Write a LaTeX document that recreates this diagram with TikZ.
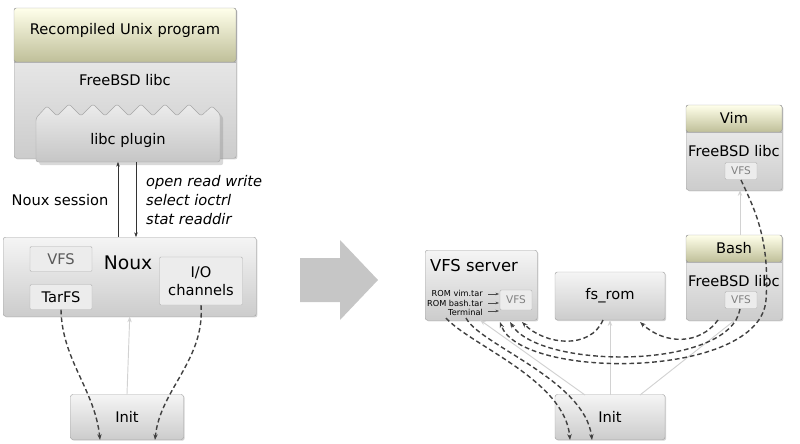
\documentclass[tikz,border=0pt]{standalone}
\usepackage{fontspec}
\setmainfont{DejaVu Sans}
\usetikzlibrary{shadows,arrows.meta}
\begin{document}
\begin{tikzpicture}[x=0.03cm,y=-0.03cm,
 box/.style={draw=gray!70,rounded corners=2pt,top color=gray!8,bottom color=gray!40,drop shadow={opacity=0.35,shadow xshift=1pt,shadow yshift=-1pt}},
 ybox/.style={draw=gray!70,top color=yellow!8!white,bottom color=olive!30!gray!50!white},
 sbox/.style={draw=gray!60,fill=gray!15,rounded corners=1pt},
 dsh/.style={dash pattern=on 4pt off 2.5pt,line width=1.2pt,draw=black!75,-{Stealth[length=5pt]}},
 glin/.style={draw=gray!35,line width=0.8pt,-{Stealth[length=5pt]}},
 tx/.style={font=\fontsize{12.5}{15}\selectfont}]
\useasboundingbox (0,0) rectangle (800,444);
% left stack
\node[box,minimum width=222*0.03cm,minimum height=150*0.03cm,anchor=north west,inner sep=0] (prog) at (14,8) {};
\fill[ybox,rounded corners=2pt] (14,62) |- (236,8) |- cycle;
\draw[gray!60] (14,62)--(236,62);
\node[tx] (rup) at (125,30) {Recompiled Unix program};
\node[tx] (flibc) at (125,80) {FreeBSD libc};
\draw[draw=gray!70,top color=gray!15,bottom color=gray!45,rounded corners=2pt,drop shadow={opacity=0.3}]
 (36,162) -- (36,118) -- (47,106) -- (57,116) -- (69,104) -- (81,116) -- (93,104) -- (105,116) -- (117,104) -- (129,116) -- (141,104) -- (153,116) -- (165,104) -- (177,116) -- (189,104) -- (201,116) -- (212,106) -- (220,114) -- (220,162) -- cycle;
\node[tx] (plug) at (128,140) {libc plugin};
\coordinate (pb1) at (118,162); \coordinate (pb2) at (136,162);
% Noux
\node[box,minimum width=253*0.03cm,minimum height=79*0.03cm,anchor=north west,inner sep=0] (noux) at (3,237) {};
\node[font=\fontsize{16}{18}\selectfont] at (128,263) {Noux};
\node[sbox,minimum width=62*0.03cm,minimum height=25*0.03cm,tx,text=gray!70!black] (vfs1) at (61,259) {VFS};
\node[sbox,minimum width=62*0.03cm,minimum height=25*0.03cm,tx] (tarfs) at (61,297) {TarFS};
\node[sbox,minimum width=83*0.03cm,minimum height=48*0.03cm,tx,align=center] (io) at (201,281) {I/O\\channels};
\coordinate (nt1) at (118,237); \coordinate (nt2) at (136,237);
\draw[-{Stealth[length=4pt]},gray!40!black] (nt1) -- (pb1);
\draw[-{Stealth[length=4pt]},gray!40!black] (pb2) -- (nt2);
\node[tx] at (60,200) {Noux session};
\node[anchor=west,font=\fontsize{12.5}{16}\selectfont\itshape,align=left] at (142,200) {open read write\\select ioctrl\\stat readdir};
% Init left
\node[box,minimum width=113*0.03cm,minimum height=45*0.03cm,tx] (initl) at (127,417) {Init};
\draw[glin] (initl.north) -- (noux.south);
\draw[dsh] (tarfs.south) .. controls (62,360) and (95,390) .. (100,440);
\draw[dsh] (io.south) .. controls (205,360) and (160,390) .. (155,440);
% big arrow
\fill[gray!45] (300,258) -- (340,258) -- (340,240) -- (378,280) -- (340,320) -- (340,302) -- (300,302) -- cycle;
% right side
\node[box,minimum width=112*0.03cm,minimum height=70*0.03cm,anchor=north west,inner sep=0] (vfss) at (425,250) {};
\node[font=\fontsize{14}{16}\selectfont] at (474,266) {VFS server};
\node[font=\fontsize{7}{8.2}\selectfont,anchor=east,align=right] (roms) at (487,303) {ROM vim.tar\\ROM bash.tar\\Terminal};
\node[sbox,minimum width=32*0.03cm,minimum height=20*0.03cm,font=\fontsize{9}{10}\selectfont,text=gray] (vfs2) at (516,300) {VFS};
\foreach \yy in {294,303,311} \draw[-{Stealth[length=3pt]},black!70] (488,\yy) -- (499,\yy);
\node[box,minimum width=110*0.03cm,minimum height=48*0.03cm,tx] (fsrom) at (610,296) {fs\_rom};
% Bash
\node[box,minimum width=96*0.03cm,minimum height=85*0.03cm,anchor=north west,inner sep=0] (bash) at (686,235) {};
\fill[ybox,rounded corners=2pt] (686,262) |- (782,235) |- cycle;
\draw[gray!60] (686,262)--(782,262);
\node[tx] at (734,248) {Bash};
\node[tx] at (734,281) {FreeBSD libc};
\node[sbox,minimum width=32*0.03cm,minimum height=17*0.03cm,font=\fontsize{9}{10}\selectfont,text=gray] (bvfs) at (741,300) {VFS};
% Vim
\node[box,minimum width=96*0.03cm,minimum height=85*0.03cm,anchor=north west,inner sep=0] (vim) at (686,105) {};
\fill[ybox,rounded corners=2pt] (686,132) |- (782,105) |- cycle;
\draw[gray!60] (686,132)--(782,132);
\node[tx] at (734,118) {Vim};
\node[tx] at (734,151) {FreeBSD libc};
\node[sbox,minimum width=32*0.03cm,minimum height=17*0.03cm,font=\fontsize{9}{10}\selectfont,text=gray] (vvfs) at (741,171) {VFS};
% Init right
\node[box,minimum width=110*0.03cm,minimum height=45*0.03cm,tx] (initr) at (610,417) {Init};
\draw[glin] (740,235) -- (740,190);
\draw[glin] (585,395) -- (480,320);
\draw[glin] (610,395) -- (610,320);
\draw[glin,-] (640,395) -- (735,320);
% dashed
\draw[dsh] (446,318) .. controls (470,345) and (565,380) .. (570,440);
\draw[dsh] (466,318) .. controls (480,345) and (585,380) .. (592,440);
\draw[dsh] (603,320) .. controls (590,350) and (545,345) .. (522,322);
\draw[dsh] (718,320) .. controls (700,345) and (665,345) .. (640,322);
\draw[dsh] (740,309) .. controls (730,370) and (540,370) .. (510,322);
\draw[dsh] (741,180) .. controls (755,210) and (770,240) .. (766,300) .. controls (760,380) and (520,380) .. (500,322);
\end{tikzpicture}
\end{document}
